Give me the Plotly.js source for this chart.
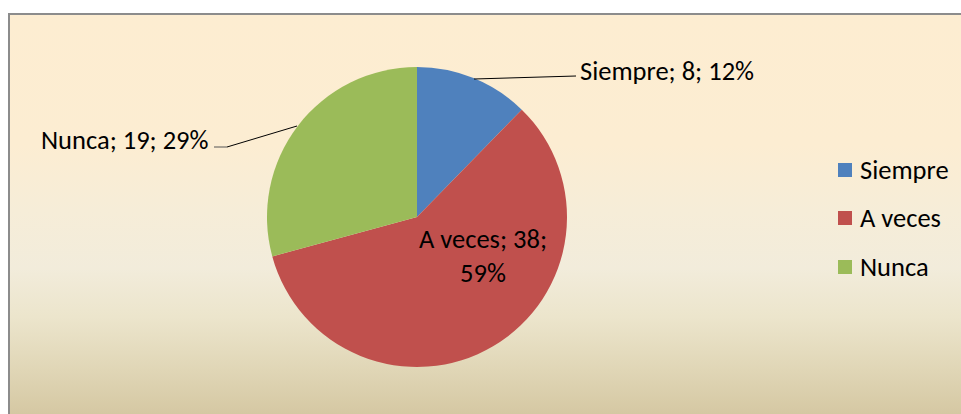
<!DOCTYPE html>
<html>
<head>
<meta charset="utf-8">
<script src="https://cdn.plot.ly/plotly-3.0.1.min.js"></script>
<style>
  html, body { margin: 0; padding: 0; background: #ffffff; }
  #wrap { position: relative; width: 961px; height: 414px; overflow: hidden; background: #ffffff; }
  #bg { position: absolute; left: 8px; top: 13px; width: 960px; height: 410px;
        border-top: 2px solid #8c8c8c; border-left: 2px solid #8c8c8c; box-sizing: border-box;
        background: linear-gradient(to bottom, #FDEDD1 0%, #FCEDD2 32%, #F6EDD8 48%, #F2ECDB 62%, #ECE5CC 74%, #E0D6B6 87%, #D3C59F 100%); }
  #chart { position: absolute; left: 0; top: 0; width: 961px; height: 414px; }
</style>
</head>
<body>
<div id="wrap">
  <div id="bg"></div>
  <div id="chart"></div>
</div>
<script>
const categories = ["Siempre", "A veces", "Nunca"];
const values = [8, 38, 19];
const percentLabels = ["12%", "59%", "29%"];
const colors = ["#4F81BD", "#C0504D", "#9BBB59"];

const W = 961, H = 414;
const px = x => x / W;
const py = y => 1 - y / H;
const FONT = "Carlito, Calibri, 'Liberation Sans', sans-serif";
const FS = 26.5;

const trace = {
  type: "pie",
  labels: categories,
  values: values,
  sort: false,
  direction: "clockwise",
  rotation: 0,
  marker: { colors: colors, line: { width: 0 } },
  textinfo: "none",
  hoverinfo: "label+value+percent",
  showlegend: false,
  domain: { x: [px(267), px(567)], y: [py(367), py(67)] }
};

const lbl = i => categories[i] + "; " + values[i] + "; " + percentLabels[i];

const annotations = [
  { text: lbl(0), x: px(579), y: py(71), xanchor: "left", yanchor: "middle" },
  { text: lbl(2), x: px(210), y: py(140), xanchor: "right", yanchor: "middle" },
  { text: categories[1] + "; " + values[1] + ";<br>" + percentLabels[1], x: px(483), y: py(256), xanchor: "center", yanchor: "middle", align: "center" }
].map(a => Object.assign({ xref: "paper", yref: "paper", showarrow: false, borderpad: 0, font: { family: FONT, size: FS, color: "#000000" } }, a));

const legendY = [170, 218, 267];
const shapes = [
  { type: "line", xref: "paper", yref: "paper", x0: px(474), y0: py(79), x1: px(576), y1: py(76), line: { color: "#000000", width: 1 } },
  { type: "line", xref: "paper", yref: "paper", x0: px(227), y0: py(147), x1: px(297), y1: py(126), line: { color: "#000000", width: 1 } },
  { type: "line", xref: "paper", yref: "paper", x0: px(214), y0: py(147), x1: px(227), y1: py(147), line: { color: "#555555", width: 1 } }
];

categories.forEach((c, i) => {
  shapes.push({ type: "rect", xref: "paper", yref: "paper",
    x0: px(838), x1: px(852), y0: py(legendY[i] + 7), y1: py(legendY[i] - 7),
    fillcolor: colors[i], line: { width: 0 } });
  annotations.push({ xref: "paper", yref: "paper", showarrow: false, text: c, borderpad: 0,
    x: px(859), y: py(legendY[i]), xanchor: "left", yanchor: "middle",
    font: { family: FONT, size: FS, color: "#000000" } });
});

const layout = {
  width: W, height: H,
  margin: { l: 0, r: 0, t: 0, b: 0 },
  paper_bgcolor: "rgba(0,0,0,0)",
  plot_bgcolor: "rgba(0,0,0,0)",
  showlegend: false,
  annotations: annotations,
  shapes: shapes
};

Plotly.newPlot("chart", [trace], layout, { displayModeBar: false, staticPlot: true });
</script>
</body>
</html>
